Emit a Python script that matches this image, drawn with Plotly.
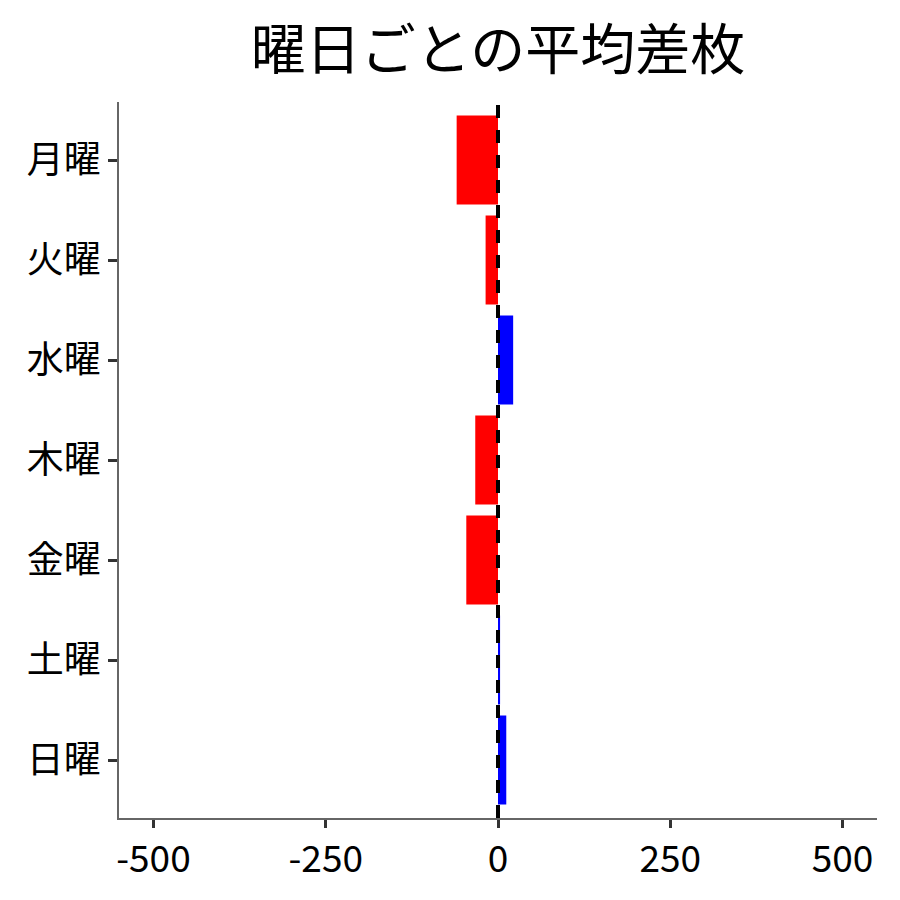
import plotly.graph_objects as go

# 曜日ごとの平均差枚データ
days = ["月曜", "火曜", "水曜", "木曜", "金曜", "土曜", "日曜"]
avg_diff = [-60, -18, 22, -33, -46, 3, 12]
x_ticks = [-500, -250, 0, 250, 500]

colors = ["blue" if v > 0 else "red" for v in avg_diff]

fig = go.Figure()
fig.add_trace(go.Bar(
    x=avg_diff, y=days, orientation="h",
    marker=dict(color=colors, line=dict(width=0)),
    width=0.89, showlegend=False,
))

# 0の位置に点線
fig.add_vline(x=0, line=dict(color="black", width=4, dash="13px,12px"))

fig.update_layout(
    width=900, height=900,
    paper_bgcolor="white", plot_bgcolor="white",
    font=dict(family="Noto Sans CJK JP", color="black"),
    title=dict(text="曜日ごとの平均差枚", x=0.5, xref="paper", xanchor="center",
               y=0.954, yref="container", yanchor="middle",
               font=dict(size=55)),
    margin=dict(l=111, r=31, t=94, b=90),
)
fig.update_xaxes(
    range=[-550, 550], tickvals=x_ticks, ticktext=[str(t) for t in x_ticks],
    showgrid=False, zeroline=False,
    showline=True, linecolor="#666", linewidth=1.5,
    ticks="outside", ticklen=8, tickwidth=3, tickcolor="#333",
    tickfont=dict(size=37),
)
fig.update_yaxes(
    categoryorder="array", categoryarray=days, range=[6.58, -0.58],
    showgrid=False, zeroline=False,
    showline=True, linecolor="#666", linewidth=1.5,
    ticks="outside", ticklen=9, tickwidth=3, tickcolor="#333",
    tickfont=dict(size=37),
)

fig.write_html("out.html")
